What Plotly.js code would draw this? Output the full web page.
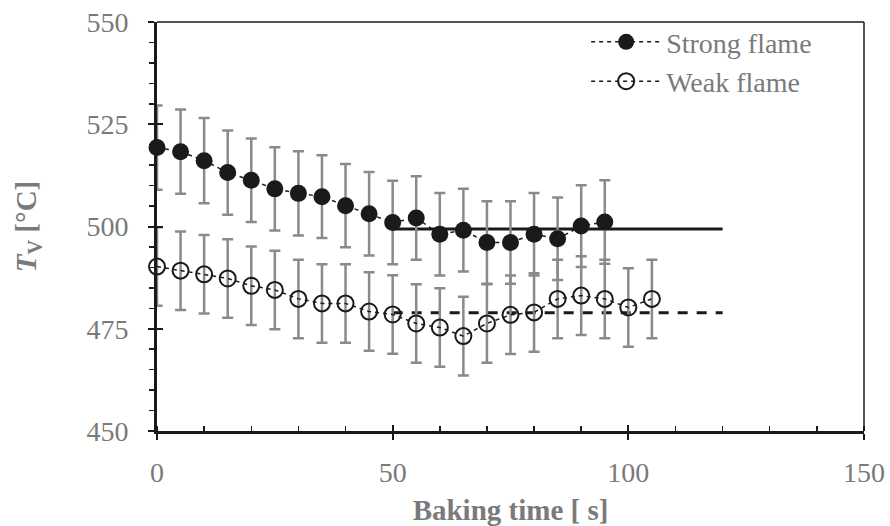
<!DOCTYPE html>
<html>
<head>
<meta charset="utf-8">
<script src="https://cdn.plot.ly/plotly-3.0.1.min.js"></script>
<style>html,body{margin:0;padding:0;background:#fff;}#chart{width:890px;height:526px;}</style>
</head>
<body>
<div id="chart"></div>
<script>
const strongTime = [0,5,10,15,20,25,30,35,40,45,50,55,60,65,70,75,80,85,90,95];
const strongTemp = [519.3,518.3,516.1,513.2,511.3,509.2,508.1,507.3,505.1,503.1,501.0,502.1,498.1,499.1,496.1,496.1,498.1,497.0,500.1,501.1];
const strongErr  = [10.3,10.3,10.4,10.3,10.2,10.2,10.3,10.1,10.2,10.2,10.2,10.2,10.1,10.1,10.1,10.1,10.1,10.1,10.0,10.2];
const weakTime = [0,5,10,15,20,25,30,35,40,45,50,55,60,65,70,75,80,85,90,95,100,105];
const weakTemp = [490.2,489.2,488.3,487.3,485.5,484.5,482.3,481.2,481.2,479.2,478.5,476.3,475.3,473.2,476.3,478.4,479.0,482.3,483.1,482.3,480.2,482.3];
const weakErr  = [9.6,9.6,9.6,9.6,9.6,9.6,9.6,9.6,9.6,9.6,9.6,9.6,9.6,9.6,9.6,9.6,9.6,9.6,9.6,9.6,9.6,9.6];
const strongAvgX = [50,120];
const strongAvgY = [499.4,499.4];
const weakAvgX = [50,120];
const weakAvgY = [478.9,478.9];
const seriesNames = ['Strong flame','Weak flame'];
const xTitle = 'Baking time [ s]';
const yTitle = '<i>T</i><sub>V</sub> [°C]';

const txt = '#7a7a7a';
const font = '"Liberation Serif", "Times New Roman", serif';

const traces = [
  {x: strongAvgX, y: strongAvgY, mode:'lines', line:{color:'#1a1a1a', width:3}, showlegend:false, hoverinfo:'skip'},
  {x: weakAvgX, y: weakAvgY, mode:'lines', line:{color:'#1a1a1a', width:3, dash:'10px,9px'}, showlegend:false, hoverinfo:'skip'},
  {x: strongTime, y: strongTemp, name: seriesNames[0], mode:'lines+markers',
   line:{color:'#1a1a1a', width:1.5, dash:'4px,4px'},
   marker:{symbol:'circle', size:17, color:'#1a1a1a'},
   error_y:{type:'data', array: strongErr, visible:true, color:'#8a8a8a', thickness:2.5, width:5.5},
   cliponaxis:false},
  {x: weakTime, y: weakTemp, name: seriesNames[1], mode:'lines+markers',
   line:{color:'#1a1a1a', width:1.5, dash:'4px,4px'},
   marker:{symbol:'circle-open', size:16, color:'#1a1a1a', line:{width:2}},
   error_y:{type:'data', array: weakErr, visible:true, color:'#8a8a8a', thickness:2.5, width:5.5},
   cliponaxis:false},
  {x:[0], y:[450], xaxis:'x2', yaxis:'y2', mode:'markers', marker:{opacity:0}, showlegend:false, hoverinfo:'skip'}
];

const layout = {
  width: 890, height: 526,
  margin: {l:157, r:26, t:22, b:95},
  paper_bgcolor:'#fff', plot_bgcolor:'#fff',
  font: {family: font, color: txt, size: 28},
  showlegend: true,
  legend: {x: 0.607, y: 1.012, xanchor:'left', yanchor:'top', bgcolor:'rgba(255,255,255,0)',
    font:{size:28, color:txt, family:font}, tracegroupgap:0, itemwidth:70, borderwidth:0},
  shapes: [
    {type:'line', xref:'paper', yref:'paper', x0:0, x1:1, y0:1, y1:1, line:{color:'#1a1a1a', width:1.5}},
    {type:'line', xref:'paper', yref:'paper', x0:1, x1:1, y0:0, y1:1, line:{color:'#1a1a1a', width:1.5}}
  ],
  xaxis: {
    range:[0,150], dtick:50, tick0:0, showgrid:false, zeroline:false,
    showline:true, linecolor:'#1a1a1a', linewidth:3,
    ticks:'outside', ticklen:6, tickwidth:2, tickcolor:'#1a1a1a',
    minor:{dtick:10, ticks:'inside', ticklen:5, tickwidth:1.5, tickcolor:'#1a1a1a', showgrid:false},
    tickfont:{size:28, color:txt, family:font}, ticklabelstandoff:8,
    title:{text:'<b>'+xTitle+'</b>', font:{size:29, color:txt, family:font}, standoff:16}
  },
  yaxis: {
    range:[450,550], dtick:25, tick0:450, showgrid:false, zeroline:false,
    showline:true, linecolor:'#1a1a1a', linewidth:3,
    ticks:'outside', ticklen:6, tickwidth:2, tickcolor:'#1a1a1a',
    minor:{dtick:5, ticks:'outside', ticklen:5, tickwidth:1.5, tickcolor:'#1a1a1a', showgrid:false},
    tickfont:{size:28, color:txt, family:font}, ticklabelstandoff:14,
    title:{text:'<b>'+yTitle+'</b>', font:{size:29, color:txt, family:font}, standoff:42}
  },
  xaxis2: {range:[0,150], dtick:50, tick0:0, overlaying:'x', showticklabels:false, showgrid:false, zeroline:false,
    ticks:'inside', ticklen:6, tickwidth:2, tickcolor:'#1a1a1a', showline:false},
  yaxis2: {range:[450,550], dtick:25, tick0:450, overlaying:'y', showticklabels:false, showgrid:false, zeroline:false,
    ticks:'inside', ticklen:6, tickwidth:2, tickcolor:'#1a1a1a', showline:false, side:'left'}
};

Plotly.newPlot('chart', traces, layout, {displayModeBar:false, staticPlot:true});
</script>
</body>
</html>
